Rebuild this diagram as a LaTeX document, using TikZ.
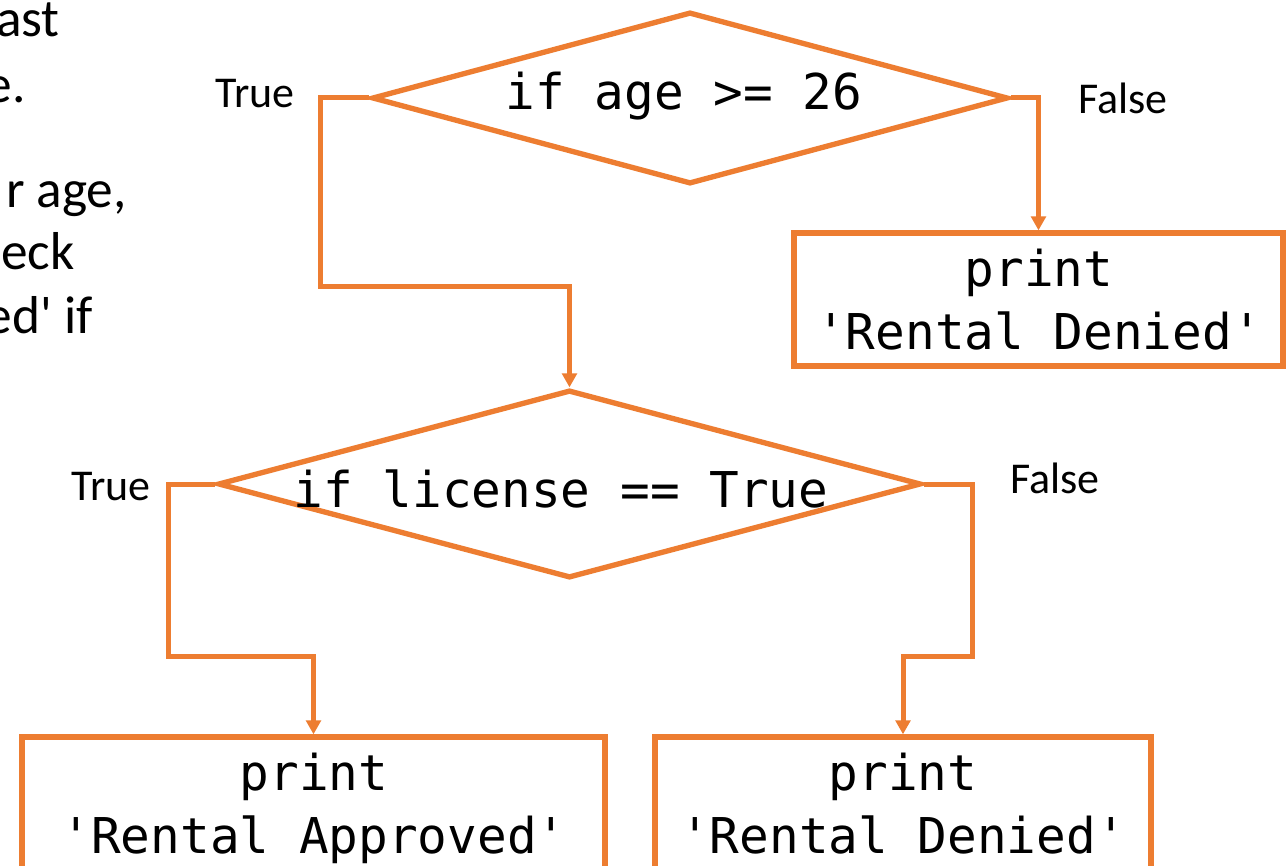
\documentclass[tikz,border=0pt]{standalone}
\usepackage{fontspec}
\setmainfont{Carlito}
\newfontfamily\calfont{Carlito}
\newfontfamily\codefont{DejaVu Sans Mono}
\usetikzlibrary{shapes.geometric,arrows.meta}
\definecolor{ofcorange}{HTML}{ED7D31}
\tikzset{
  shapeline/.style={draw=ofcorange, line width=4pt, fill=white},
  dia/.style={shapeline, shape=diamond, inner sep=0pt},
  boxnode/.style={shapeline, shape=rectangle, inner sep=0pt},
  conn/.style={draw=ofcorange, line width=3.75pt, -{Triangle[length=10.5pt,width=11pt]}},
  codetext/.style={font=\codefont\fontsize{37}{45}\selectfont, inner sep=0pt, anchor=base},
  lbl/.style={font=\calfont\fontsize{33}{40}\selectfont, inner sep=0pt, anchor=base},
  side/.style={font=\calfont\fontsize{40}{48}\selectfont, inner sep=0pt, anchor=base east}
}
\begin{document}
\begin{tikzpicture}[x=0.75pt, y=-0.75pt]
\useasboundingbox (0,0) rectangle (1286,866);
\clip (0,0) rectangle (1286,866);
\fill[white] (0,0) rectangle (1286,866);

% left cut-off text
\node[side] (s1) at (60,37) {ast};
\node[side] (s2) at (26,103) {e.};
\node[side] (s3) at (127,208) {r age,};
\node[side] (s4) at (75,270) {eck};
\node[side] (s5) at (93,334) {ed' if};

% shapes
\node[dia, minimum width=477pt, minimum height=129pt] (d1) at (690,98) {};
\node[dia, minimum width=527.25pt, minimum height=141pt] (d2) at (569.5,484) {};
\node[boxnode, minimum width=366.75pt, minimum height=99.75pt] (b1) at (1038.5,299.5) {};
\node[boxnode, minimum width=437.25pt, minimum height=135pt] (b2) at (313.5,827) {};
\node[boxnode, minimum width=372pt, minimum height=135pt] (b3) at (903,827) {};

% connectors
\draw[conn] (d1.west) -- ++(-49,0) -- ++(0,189) -| (d2.north);
\draw[conn] (d1.east) -| (b1.north);
\draw[conn] (d2.west) -- ++(-47,0) -- ++(0,172) -| (b2.north);
\draw[conn] (d2.east) -- ++(49,0) -- ++(0,172) -| (b3.north);

% texts
\node[codetext] (t1) at (684,110) {if age >= 26};
\node[codetext] (t2) at (561,507) {if license == True};
\node[codetext] (p1) at (1039,287) {print};
\node[codetext] (r1) at (1039,350) {'Rental Denied'};
\node[codetext] (p2) at (314,790) {print};
\node[codetext] (r2) at (314,853) {'Rental Approved'};
\node[codetext] (p3) at (903,790) {print};
\node[codetext] (r3) at (903,853) {'Rental Denied'};

% branch labels
\node[lbl] (l1) at (255,108) {True};
\node[lbl] (l2) at (1123,114) {False};
\node[lbl] (l3) at (111,500) {True};
\node[lbl] (l4) at (1055,493) {False};
\end{tikzpicture}
\end{document}
